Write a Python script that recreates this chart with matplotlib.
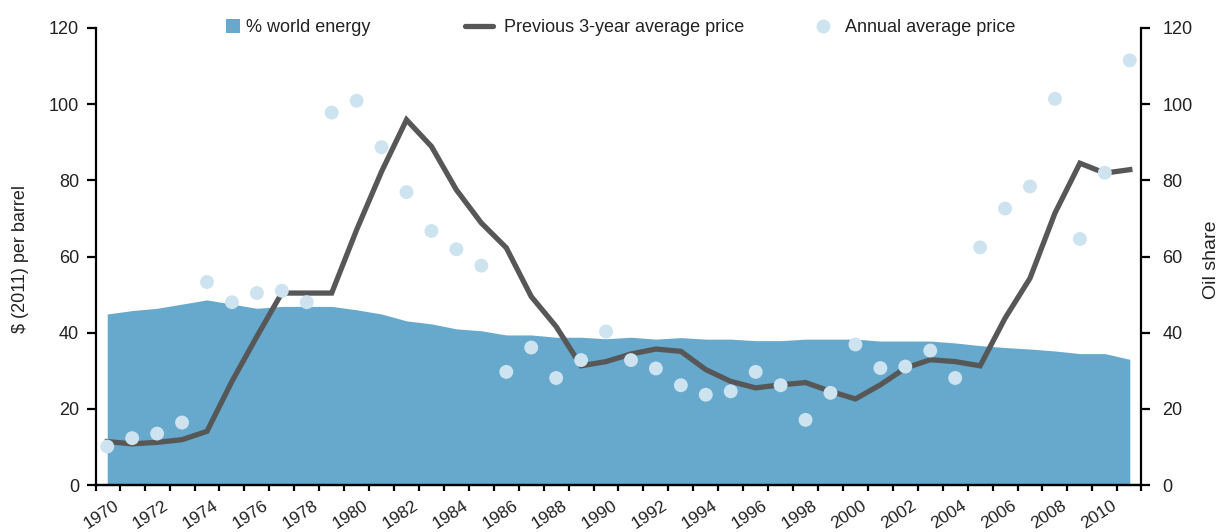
import matplotlib
matplotlib.use("Agg")
import matplotlib.pyplot as plt
import matplotlib.transforms as mtransforms
from matplotlib.lines import Line2D
from matplotlib.patches import Patch
import numpy as np

plt.rcParams['font.family'] = ['Liberation Sans', 'DejaVu Sans']

years = list(range(1970, 2012))
oil_share = [44.9, 45.8, 46.4, 47.5, 48.6, 47.5, 46.4, 46.9, 46.9, 46.9,
             46.0, 44.9, 43.1, 42.3, 41.0, 40.5, 39.4, 39.4, 38.8, 38.8,
             38.4, 38.8, 38.3, 38.7, 38.3, 38.3, 37.9, 37.9, 38.3, 38.3,
             38.3, 37.8, 37.8, 37.8, 37.3, 36.6, 36.1, 35.7, 35.2, 34.5,
             34.5, 33.0]
avg3_price = [11.4, 10.8, 11.2, 11.9, 14.1, 27.2, 39.0, 50.4, 50.4, 50.4,
              67.0, 82.3, 95.9, 88.9, 77.5, 68.8, 62.3, 49.5, 41.6, 31.3,
              32.4, 34.4, 35.7, 35.1, 30.3, 27.2, 25.5, 26.3, 26.9, 24.6,
              22.6, 26.3, 30.7, 32.9, 32.4, 31.3, 43.8, 54.3, 71.4, 84.5,
              81.9, 82.8]
annual_price = [10.1, 12.3, 13.5, 16.4, 53.3, 48.0, 50.4, 51.0, 48.0, 97.8,
                100.9, 88.7, 76.9, 66.7, 61.9, 57.6, 29.7, 36.1, 28.1, 32.8,
                40.3, 32.8, 30.6, 26.2, 23.7, 24.6, 29.7, 26.2, 17.1, 24.2,
                36.9, 30.7, 31.1, 35.3, 28.1, 62.4, 72.6, 78.4, 101.4, 64.6,
                82.0, 111.5]
yticks = [0, 20, 40, 60, 80, 100, 120]

AREA = '#66a9cd'
DOT = '#cde3ef'
LINE = '#575757'
TXT = '#222222'

fig = plt.figure(figsize=(12.19, 5.32), dpi=100)
ax = fig.add_axes([96/1219, 1-485/532, (1141-96)/1219, (485-28)/532])
ax2 = ax.twinx()

x = np.arange(len(years))
ax2.fill_between(x, 0, oil_share, color=AREA, linewidth=0, zorder=1)
ax2.set_ylim(0, 120)
ax.set_zorder(ax2.get_zorder() + 1)
ax.patch.set_visible(False)

ax.plot(x, avg3_price, color=LINE, linewidth=3.8, solid_joinstyle='miter', zorder=3)
ax.scatter(x, annual_price, s=100, color=DOT, edgecolors='none', zorder=4)

ax.set_ylim(0, 120)
ax.set_xlim(-0.45, len(years) - 0.55)

for a in (ax, ax2):
    a.spines['top'].set_visible(False)
    for s in ('left', 'right', 'bottom'):
        a.spines[s].set_linewidth(1.6)
        a.spines[s].set_color('black')
    a.set_yticks(yticks)
    a.tick_params(axis='y', length=6.3, width=1.6, colors='black', labelcolor=TXT, labelsize=13)
ax.spines['right'].set_visible(False)
ax2.spines['left'].set_visible(False)
ax.tick_params(axis='y', pad=6)
ax2.tick_params(axis='y', pad=9)

bounds = [-0.45] + [i + 0.5 for i in range(len(years) - 1)] + [len(years) - 0.55]
ax.set_xticks(bounds)
ax.set_xticklabels([])
ax.tick_params(axis='x', length=4.5, width=1.6, colors='black')

off = mtransforms.ScaledTranslation(0.10, -0.19, fig.dpi_scale_trans)
for i, yr in enumerate(years):
    if yr % 2 == 0:
        ax.text(i, 0, str(yr), transform=ax.get_xaxis_transform() + off,
                rotation=33, rotation_mode='anchor', ha='right', va='center',
                fontsize=12.5, color=TXT)

fig.text(21/1219, 1-259/532, '$ (2011) per barrel', rotation=90, ha='center', va='center',
         fontsize=13, color=TXT)
fig.text(1212/1219, 1-260/532, 'Oil share', rotation=90, ha='center', va='center',
         fontsize=14, color=TXT)

ly = 1 - 27.5/532
common = dict(loc='center left', frameon=False, borderpad=0, borderaxespad=0,
              fontsize=13, labelcolor=TXT)
fig.legend(handles=[Patch(facecolor=AREA, edgecolor='none', label='% world energy')],
           bbox_to_anchor=(226/1219, ly), handlelength=0.78, handleheight=0.78,
           handletextpad=0.33, **common)
fig.legend(handles=[Line2D([0], [0], color=LINE, linewidth=3.8, solid_capstyle='round',
                           label='Previous 3-year average price')],
           bbox_to_anchor=(465/1219, ly), handlelength=1.55, handletextpad=0.62, **common)
fig.legend(handles=[Line2D([0], [0], marker='o', linestyle='none', markersize=10,
                           markerfacecolor=DOT, markeredgecolor='none', label='Annual average price')],
           bbox_to_anchor=(814/1219, ly), handlelength=1.0, handletextpad=0.72, **common)

fig.savefig('out.png', dpi=100)
